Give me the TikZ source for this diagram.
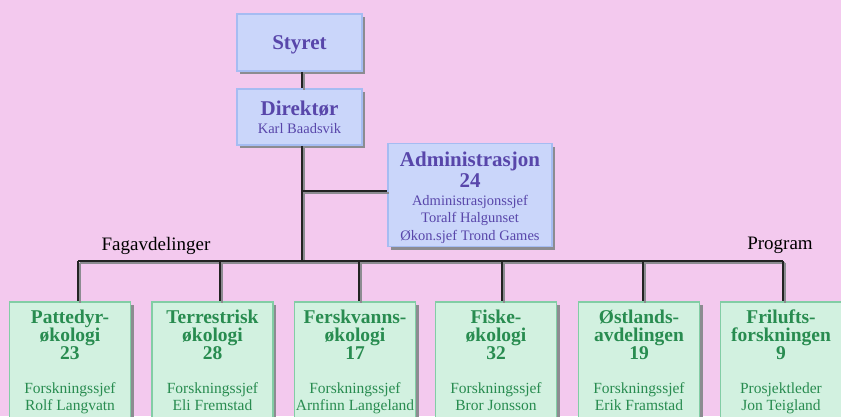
\documentclass[tikz,border=0pt]{standalone}
\usepackage{fontspec}
\setmainfont{Liberation Serif}
\usetikzlibrary{shadows}
\definecolor{bg}{RGB}{243,201,238}
\definecolor{bfill}{RGB}{202,214,250}
\definecolor{bdraw}{RGB}{165,188,242}
\definecolor{btext}{RGB}{88,70,170}
\definecolor{gfill}{RGB}{210,241,224}
\definecolor{gdraw}{RGB}{130,205,165}
\definecolor{gtext}{RGB}{40,140,80}
\definecolor{shade}{RGB}{140,140,145}
\definecolor{linec}{RGB}{35,35,35}
\begin{document}
\begin{tikzpicture}[x=1pt,y=-1pt,
  shadowed/.style={drop shadow={shadow xshift=3pt,shadow yshift=-3pt,fill=shade,opacity=1}},
  bbox/.style={draw=bdraw,fill=bfill,line width=1.5pt,inner sep=0pt,shadowed},
  gbox/.style={draw=gdraw,fill=gfill,line width=1.5pt,inner sep=0pt,minimum width=121pt,minimum height=118pt,shadowed},
  btitle/.style={text=btext,font=\fontsize{21}{21}\selectfont\bfseries,inner sep=0pt,align=center,anchor=base},
  bsub/.style={text=btext,font=\fontsize{14.5}{17.5}\selectfont,inner sep=0pt,align=center,anchor=base},
  gtitle/.style={text=gtext,font=\fontsize{19.5}{18}\selectfont\bfseries,inner sep=0pt,align=center,anchor=base},
  gsub/.style={text=gtext,font=\fontsize{15.5}{16.5}\selectfont,inner sep=0pt,align=center,anchor=base},
  grouplabel/.style={text=black,font=\fontsize{19}{19}\selectfont,inner sep=0pt},
  conn/.style={draw=linec,line width=1.4pt,preaction={draw=shade,line width=2pt,transform canvas={xshift=1.5pt,yshift=-1.5pt}}}
]
\fill[bg] (0,0) rectangle (841,416);
\useasboundingbox (0,0) rectangle (841,416);
\clip (0,0) rectangle (841,416);

% bus coordinates
\coordinate (busL) at (78,261);
\coordinate (busR) at (783,261);
\coordinate (busM) at (302,261);
\coordinate (adm) at (302,191);
\coordinate (d1) at (78,261);
\coordinate (d2) at (220,261);
\coordinate (d3) at (359,261);
\coordinate (d4) at (502,261);
\coordinate (d5) at (643,261);
\coordinate (d6) at (783,261);

% boxes
\node[bbox,minimum width=125pt,minimum height=57pt] (styret) at (299.5,42.5) {};
\node[bbox,minimum width=125pt,minimum height=56pt] (dirbox) at (299.5,117) {};
\node[bbox,minimum width=164pt,minimum height=103pt] (admbox) at (470,195) {};
\node[gbox] (b1) at (70,361) {};
\node[gbox] (b2) at (212.5,361) {};
\node[gbox] (b3) at (355,361) {};
\node[gbox] (b4) at (496,361) {};
\node[gbox] (b5) at (639,361) {};
\node[gbox] (b6) at (781,361) {};

% connectors
\draw[conn] (styret.south -| busM) -- (dirbox.north -| busM);
\draw[conn] (dirbox.south -| busM) -- (busM);
\draw[conn] (adm) -- (admbox.west |- adm);
\draw[conn] (busL) -- (busR);
\foreach \i in {1,...,6} {\draw[conn] (d\i) -- (d\i |- b\i.north);}

% texts (anchor = baseline of the last line)
\node[btitle] (tStyret) at (299.5,49) {Styret};
\node[btitle] (tDir) at (299.5,115) {Direktør};
\node[bsub] (tDirS) at (299.5,133) {Karl Baadsvik};
\node[btitle] (tAdm) at (470,187) {Administrasjon\\24};
\node[bsub] (tAdmS) at (470,240) {Administrasjonssjef\\Toralf Halgunset\\Økon.sjef Trond Games};

\node[gtitle] (t1) at (70,359) {Pattedyr-\\økologi\\23};
\node[gsub] (s1) at (70,410) {Forskningssjef\\Rolf Langvatn};
\node[gtitle] (t2) at (212.5,359) {Terrestrisk\\økologi\\28};
\node[gsub] (s2) at (212.5,410) {Forskningssjef\\Eli Fremstad};
\node[gtitle] (t3) at (355,359) {Ferskvanns-\\økologi\\17};
\node[gsub] (s3) at (355,410) {Forskningssjef\\Arnfinn Langeland};
\node[gtitle] (t4) at (496,359) {Fiske-\\økologi\\32};
\node[gsub] (s4) at (496,410) {Forskningssjef\\Bror Jonsson};
\node[gtitle] (t5) at (639,359) {Østlands-\\avdelingen\\19};
\node[gsub] (s5) at (639,410) {Forskningssjef\\Erik Framstad};
\node[gtitle] (t6) at (781,359) {Frilufts-\\forskningen\\9};
\node[gsub] (s6) at (781,410) {Prosjektleder\\Jon Teigland};

\node[grouplabel] (fag) at (156,246) {Fagavdelinger};
\node[grouplabel] (prog) at (780,245) {Program};
\end{tikzpicture}
\end{document}
